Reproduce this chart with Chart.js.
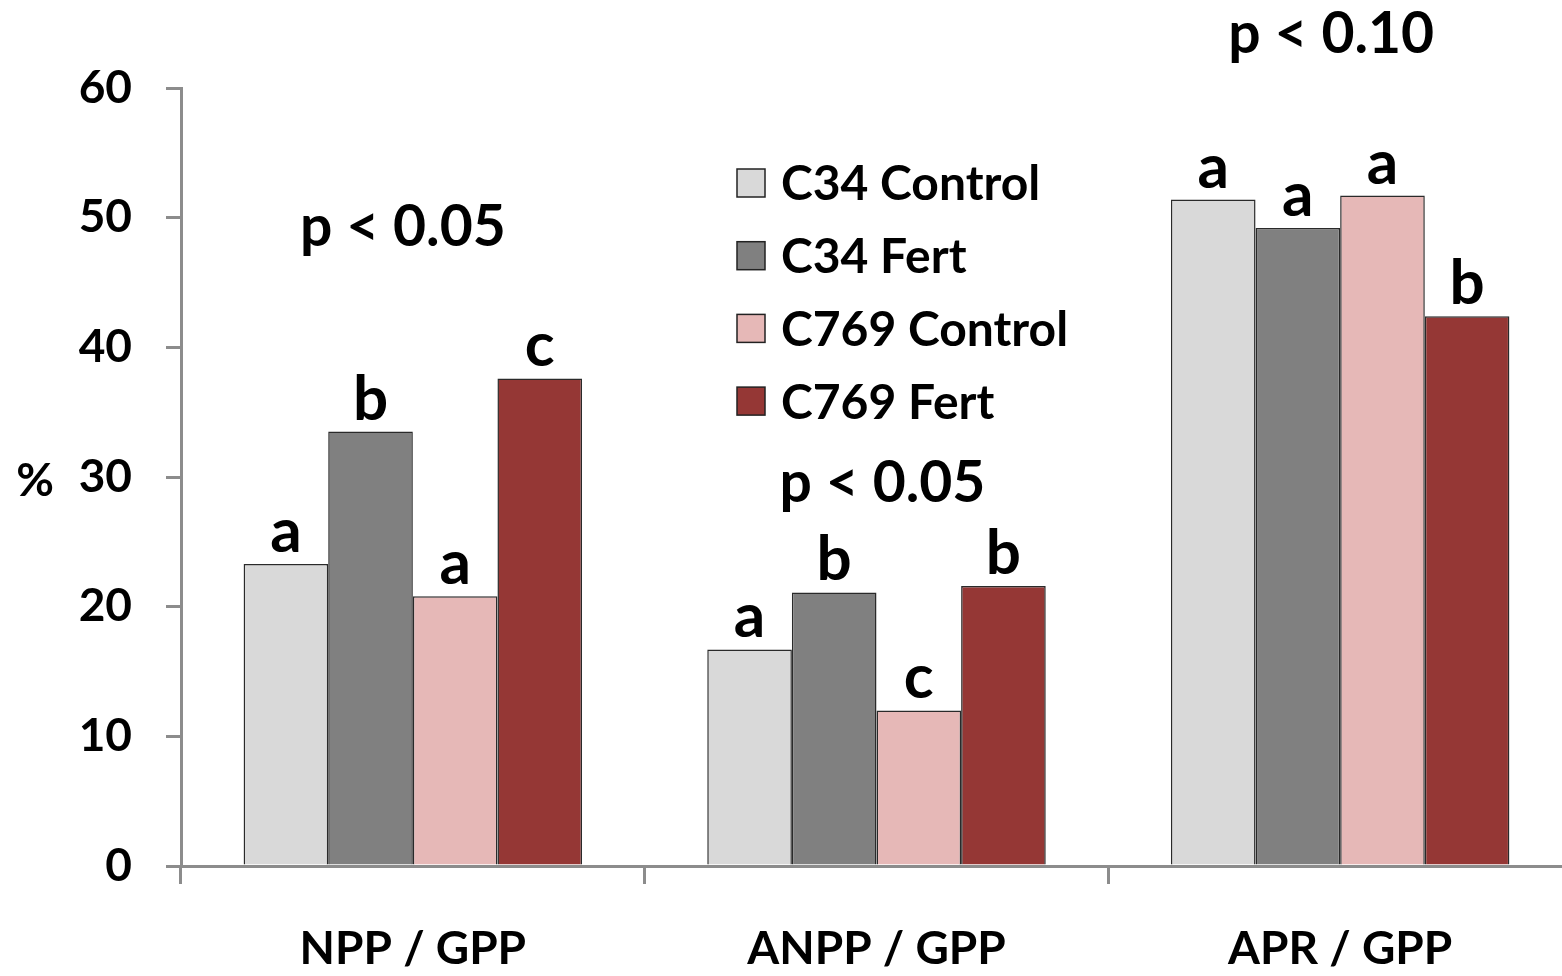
<!DOCTYPE html>
<html lang="en">
<head>
    <meta charset="UTF-8">
    <title>NPP / ANPP / APR over GPP</title>
    <script src="https://cdn.jsdelivr.net/npm/chart.js"></script>
    <style>
        body {
            margin: 0;
            background: white;
            overflow: hidden;
        }
        #chart {
            display: block;
        }
    </style>
</head>
<body>
    <canvas id="chart" width="1580" height="976"></canvas>

    <script>
        const categories = ['NPP / GPP', 'ANPP / GPP', 'APR / GPP'];
        const seriesNames = ['C34 Control', 'C34 Fert', 'C769 Control', 'C769 Fert'];

        // % of GPP
        const c34Control = [23.3, 16.7, 51.4];
        const c34Fert = [33.5, 21.1, 49.2];
        const c769Control = [20.8, 12.0, 51.7];
        const c769Fert = [37.6, 21.6, 42.4];

        // significance letters above each bar
        const c34ControlLetters = ['a', 'a', 'a'];
        const c34FertLetters = ['b', 'b', 'a'];
        const c769ControlLetters = ['a', 'c', 'a'];
        const c769FertLetters = ['c', 'b', 'b'];

        const pLabels = ['p < 0.05', 'p < 0.05', 'p < 0.10'];
        const yTicks = [0, 10, 20, 30, 40, 50, 60];

        const FONT = 'Lato, "Open Sans", sans-serif';
        const AXIS_GREY = '#8c8c8c';

        // letters over bars + p-value text per group
        const annotations = {
            id: 'annotations',
            afterDatasetsDraw(chart, args, opts) {
                const ctx = chart.ctx;
                const x = chart.scales.x;
                const y = chart.scales.y;
                ctx.save();
                ctx.fillStyle = '#000';
                ctx.textAlign = 'center';
                ctx.font = 'bold 62px ' + FONT;
                ctx.textBaseline = 'alphabetic';
                chart.data.datasets.forEach((ds, i) => {
                    chart.getDatasetMeta(i).data.forEach((bar, j) => {
                        ctx.fillText(ds.letters[j], bar.x, bar.y - 12);
                    });
                });
                ctx.font = 'bold 57px ' + FONT;
                ctx.textBaseline = 'middle';
                pLabels.forEach((txt, j) => {
                    const cx = x.getPixelForValue(j) + opts.pOffsetX[j];
                    ctx.fillText(txt, cx, y.getPixelForValue(opts.pLevel[j]));
                });
                // unrotated axis title
                ctx.font = 'bold 46px ' + FONT;
                ctx.fillText('%', 35, y.getPixelForValue(30) + 4);
                ctx.restore();
            }
        };

        // legend drawn inside the plot
        const boxLegend = {
            id: 'boxLegend',
            afterDraw(chart, args, opts) {
                const ctx = chart.ctx;
                ctx.save();
                ctx.font = 'bold 48px ' + FONT;
                ctx.textBaseline = 'middle';
                ctx.textAlign = 'left';
                chart.data.datasets.forEach((ds, i) => {
                    const cy = opts.top + i * opts.rowGap;
                    ctx.fillStyle = ds.backgroundColor;
                    ctx.fillRect(opts.left, cy - 14, 28, 28);
                    ctx.strokeStyle = '#222';
                    ctx.lineWidth = 1.5;
                    ctx.strokeRect(opts.left, cy - 14, 28, 28);
                    ctx.fillStyle = '#000';
                    ctx.fillText(ds.label, opts.left + 44, cy + 2);
                });
                ctx.restore();
            }
        };

        function makeSet(label, data, letters, color) {
            return {
                label: label,
                data: data,
                letters: letters,
                backgroundColor: color,
                borderColor: '#2a2a2a',
                borderWidth: 1.5,
                borderSkipped: 'bottom',
                categoryPercentage: 0.73,
                barPercentage: 1.0
            };
        }

        new Chart(document.getElementById('chart'), {
            type: 'bar',
            data: {
                labels: categories,
                datasets: [
                    makeSet(seriesNames[0], c34Control, c34ControlLetters, '#D9D9D9'),
                    makeSet(seriesNames[1], c34Fert, c34FertLetters, '#808080'),
                    makeSet(seriesNames[2], c769Control, c769ControlLetters, '#E6B8B7'),
                    makeSet(seriesNames[3], c769Fert, c769FertLetters, '#953735')
                ]
            },
            options: {
                responsive: false,
                animation: false,
                layout: { padding: { top: 88, right: 8, left: 0, bottom: 0 } },
                plugins: {
                    legend: { display: false },
                    tooltip: { enabled: false },
                    annotations: {
                        pLevel: [49.2, 29.5, 64.1],
                        pOffsetX: [-10, 6, -9]
                    },
                    boxLegend: { left: 737, top: 183, rowGap: 72.7 }
                },
                scales: {
                    x: {
                        afterFit: (s) => { s.height = 110; },
                        border: { color: AXIS_GREY, width: 3 },
                        grid: {
                            offset: true,
                            drawOnChartArea: false,
                            color: AXIS_GREY,
                            lineWidth: 3,
                            tickLength: 18
                        },
                        ticks: {
                            color: '#000',
                            padding: 38,
                            font: { family: FONT, size: 46, weight: 'bold' }
                        }
                    },
                    y: {
                        min: 0,
                        max: 60,
                        afterFit: (s) => { s.width = 181; },
                        afterBuildTicks: (s) => { s.ticks = yTicks.map(v => ({ value: v })); },
                        border: { color: AXIS_GREY, width: 3 },
                        grid: {
                            drawOnChartArea: false,
                            color: AXIS_GREY,
                            lineWidth: 3,
                            tickLength: 15
                        },
                        ticks: {
                            color: '#000',
                            padding: 34,
                            font: { family: FONT, size: 46, weight: 'bold' }
                        }
                    }
                }
            },
            plugins: [annotations, boxLegend]
        });
    </script>
</body>
</html>
